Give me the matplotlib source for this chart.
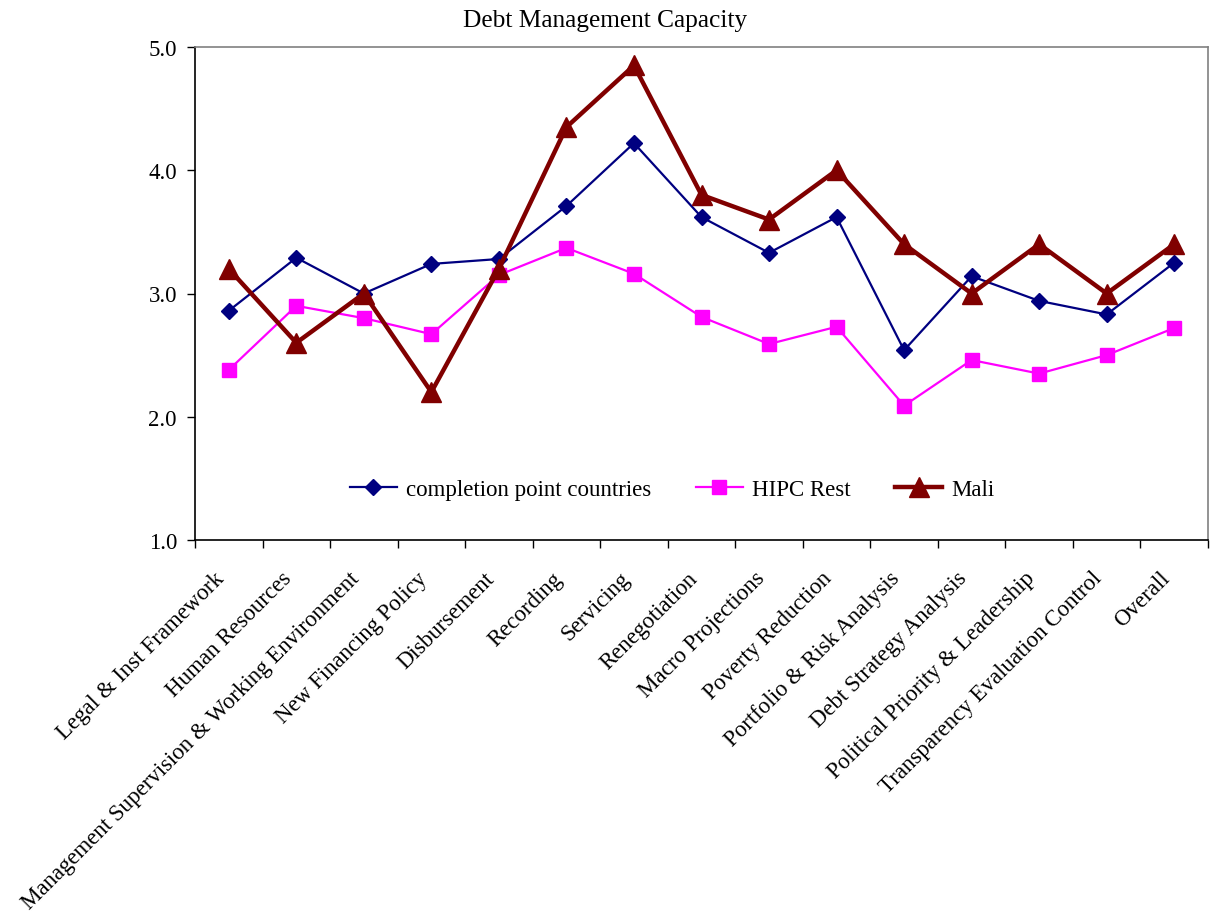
import matplotlib
matplotlib.use("Agg")
import matplotlib.pyplot as plt
from matplotlib.ticker import FormatStrFormatter, FixedLocator
from matplotlib.transforms import ScaledTranslation

plt.rcParams['font.family'] = ['Liberation Serif', 'DejaVu Serif']

categories = ["Legal & Inst Framework", "Human Resources",
              "Management Supervision & Working Environment", "New Financing Policy",
              "Disbursement", "Recording", "Servicing", "Renegotiation",
              "Macro Projections", "Poverty Reduction", "Portfolio & Risk Analysis",
              "Debt Strategy Analysis", "Political Priority & Leadership",
              "Transparency Evaluation Control", "Overall"]
completion = [2.86, 3.29, 3.00, 3.24, 3.28, 3.71, 4.22, 3.62, 3.33, 3.62, 2.54, 3.14, 2.94, 2.83, 3.25]
hipc_rest = [2.38, 2.90, 2.80, 2.67, 3.15, 3.37, 3.16, 2.81, 2.59, 2.73, 2.09, 2.46, 2.35, 2.50, 2.72]
mali = [3.2, 2.6, 3.0, 2.2, 3.2, 4.35, 4.85, 3.8, 3.6, 4.0, 3.4, 3.0, 3.4, 3.0, 3.4]
series_names = ["completion point countries", "HIPC Rest", "Mali"]
yticks = [1.0, 2.0, 3.0, 4.0, 5.0]

fig = plt.figure(figsize=(12.12, 9.2), dpi=100)
ax = fig.add_axes([195/1212, 1-541/920, (1208-195)/1212, (541-48)/920])

x = list(range(len(categories)))
ax.plot(x, completion, color='#000080', lw=1.6, marker='D', ms=8,
        label=series_names[0], zorder=3)
ax.plot(x, hipc_rest, color='#FF00FF', lw=1.6, marker='s', ms=9.5,
        label=series_names[1], zorder=2)
ax.plot(x, mali, color='#800000', lw=3.2, marker='^', ms=14,
        label=series_names[2], zorder=4)

ax.set_xlim(-0.5, len(categories) - 0.5)
ax.set_ylim(1.0, 5.0)
ax.set_yticks(yticks)
ax.yaxis.set_major_formatter(FormatStrFormatter('%.1f'))
ax.tick_params(axis='y', direction='out', length=6, width=1, labelsize=16.5, pad=7)

ax.set_xticks(x)
ax.set_xticklabels(categories, rotation=45, ha='right', rotation_mode='anchor',
                   fontsize=16.5)
ax.tick_params(axis='x', which='major', length=0, pad=14)
offset = ScaledTranslation(-15/100, -8/100, fig.dpi_scale_trans)
for lbl in ax.get_xticklabels():
    lbl.set_transform(lbl.get_transform() + offset)
ax.xaxis.set_minor_locator(FixedLocator([i - 0.5 for i in range(len(categories) + 1)]))
ax.tick_params(axis='x', which='minor', direction='out', length=6, width=1)

for s in ['left', 'bottom']:
    ax.spines[s].set_color('black')
    ax.spines[s].set_linewidth(1.2)
for s in ['top', 'right']:
    ax.spines[s].set_color('#808080')
    ax.spines[s].set_linewidth(1.2)

fig.text(605/1212, 1 - 21/920, "Debt Management Capacity", ha='center', va='center',
         fontsize=18.3)

leg = ax.legend(loc='center', bbox_to_anchor=((672-195)/1013, 1 - (490-48)/(541-48)), ncol=3,
                frameon=False, fontsize=16.5, handlelength=2.05, columnspacing=1.95,
                handletextpad=0.4)

fig.savefig("out.png", dpi=100)
